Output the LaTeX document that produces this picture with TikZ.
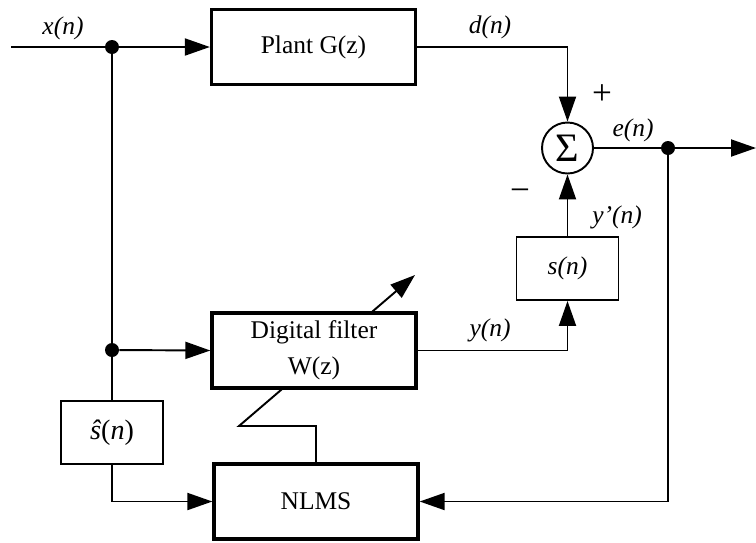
\documentclass[tikz,border=0pt]{standalone}
\usepackage{fontspec}
\setmainfont{Liberation Serif}
\usepackage{tikz}
\usetikzlibrary{arrows.meta,backgrounds}

\begin{document}
\begin{tikzpicture}[x=0.02cm, y=-0.02cm,
	every node/.style={font=\fontsize{14.5}{20.5}\selectfont},
	block/.style={draw, line width=1.9pt, fill=white, minimum width=4.08cm, minimum height=1.5cm, inner sep=0, align=center},
	sblock/.style={draw, line width=1.1pt, minimum width=2.04cm, minimum height=1.26cm, inner sep=0},
	wire/.style={line width=1.1pt},
	sig/.style={wire, -{Triangle[length=0.5cm, width=0.34cm]}},
	junct/.style={circle, fill, inner sep=0, minimum size=0.28cm}]
	\useasboundingbox (0,0) rectangle (756,542);
	% Blocks and nodes:
	\node[block] (plant) at (313.5,47) {Plant G(z)};
	\node[block] (filt) at (314,350.5) {Digital filter\\W(z)};
	\node[block] (nlms) at (316,501.5) {NLMS};
	\node[circle, draw, wire, minimum size=1.02cm, inner sep=0, font=\fontsize{23}{23}\selectfont] (sum) at (567.5,148) {Σ};
	\node[sblock] (sn) at (567.5,268.5) {\textit{s(n)}};
	\node[sblock, font=\fontsize{16}{18}\selectfont] (shat) at (112,432.5) {\textit{ŝ}(\textit{n})};
	\node[junct] (j1) at (112,47) {};
	\node[junct] (j2) at (112,350) {};
	\node[junct] (j3) at (668,148) {};
	\coordinate (in) at (11,47);
	\coordinate (out) at (756,148);
	\coordinate (bend) at (239,426);
	\coordinate (adapt) at (415,275);
	% Labels:
	\node (xl) at (63,28) {\textit{x(n)}};
	\node (dl) at (490,27) {\textit{d(n)}};
	\node (el) at (633,130) {\textit{e(n)}};
	\node (ypl) at (617,217) {\textit{y’(n)}};
	\node (yl) at (490,330) {\textit{y(n)}};
	\node[font=\fontsize{20}{20}\selectfont] (plus) at (602,95) {+};
	\node[font=\fontsize{20}{20}\selectfont] (minus) at (520,195) {−};
	% Paths and wires:
	\draw[wire] (in) -- (j1);
	\draw[sig] (j1) -- (plant.west);
	\draw[wire] (j1) -- (j2);
	\draw[sig] (j2) -- (filt.west);
	\draw[wire] (j2) -- (shat.north);
	\draw[sig] (shat.south) |- (nlms.west);
	\draw[sig] (plant.east) -| (sum.north);
	\draw[wire] (sum.east) -- (j3);
	\draw[sig] (j3) -- (out);
	\draw[sig] (j3) |- (nlms.east);
	\draw[sig] (filt.east) -| (sn.south);
	\draw[sig] (sn.north) -- (sum.south);
	\begin{scope}[on background layer]
		\draw[sig] (nlms.north) |- (bend) -- (adapt);
	\end{scope}
\end{tikzpicture}
\end{document}
